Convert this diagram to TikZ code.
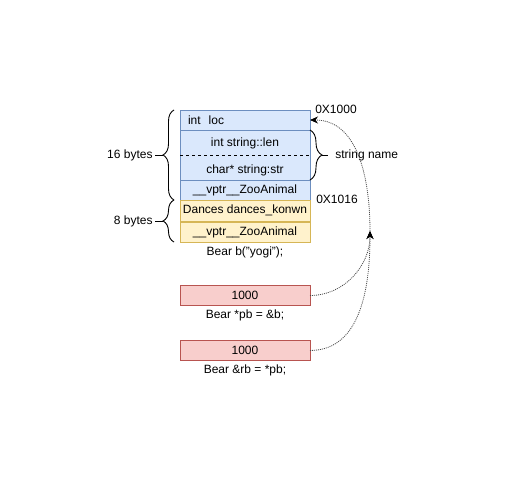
\documentclass[tikz,border=0pt]{standalone}
\usepackage{fontspec}
\setmainfont{Liberation Sans}
\usetikzlibrary{arrows.meta}
\usetikzlibrary{decorations.pathreplacing}
\definecolor{bluefill}{HTML}{DAE8FC}
\definecolor{blueline}{HTML}{6C8EBF}
\definecolor{yellowfill}{HTML}{FFF2CC}
\definecolor{yellowline}{HTML}{D6B656}
\definecolor{redfill}{HTML}{F8CECC}
\definecolor{redline}{HTML}{B85450}

\begin{document}
\begin{tikzpicture}[x=1pt, y=-1pt, font=\fontsize{12}{14}\selectfont, line width=0.8pt,
	cell/.style={draw, minimum width=130pt, inner sep=0pt, outer sep=0pt},
	bluecell/.style={cell, draw=blueline, fill=bluefill},
	yellowcell/.style={cell, draw=yellowline, fill=yellowfill},
	redcell/.style={cell, draw=redline, fill=redfill, minimum height=20pt},
	pointer/.style={draw=black!70, dash pattern=on 1pt off 1pt, -{Stealth[length=8pt, width=7pt, inset=2.5pt, black]}},
	curly/.style={decorate, decoration={brace, amplitude=#1}}
	]
				\useasboundingbox (0,0) rectangle (506,481);
				\node[bluecell, minimum height=20pt, text width=114pt, inner xsep=8pt, align=left] (loc) at (245,120) {int\ \ loc};
				\node[bluecell, minimum height=50pt] (str) at (245,155) {};
				\node[bluecell, minimum height=20pt] (vptra) at (245,190) {\_\_vptr\_\_ZooAnimal};
				\node[yellowcell, minimum height=21pt] (dance) at (245,210.5) {Dances dances\_konwn};
				\node[yellowcell, minimum height=20pt] (vptrb) at (245,232) {\_\_vptr\_\_ZooAnimal};
				\node (len) at (245,143) {int string::len};
				\node (chr) at (245,170) {char* string:str};
				\node (bear) at (245,252) {Bear b("yogi");};
				\node[redcell] (pb) at (245,295.5) {1000};
				\node (pbtxt) at (245,315) {Bear *pb = \&b;};
				\node[redcell] (rb) at (245,350.5) {1000};
				\node (rbtxt) at (245,370) {Bear \&rb = *pb;};
				\node[inner sep=0pt] (top) at (336,109) {0X1000};
				\node[inner sep=0pt] (mid) at (337,199) {0X1016};
				\node[inner sep=0pt, anchor=east] (sixteen) at (153,155) {16 bytes};
				\node[inner sep=0pt, anchor=east] (eight) at (153,221) {8 bytes};
				\node[inner sep=0pt, anchor=west] (name) at (335,155) {string name};
				\node[shape=coordinate] (join) at (370,231) {};
				\draw[dashed] (str.west) -- (str.east);
				\begin{scope}[line width=0.9pt]
					\draw[curly=11pt] (174,200) -- (174,110);
					\draw[curly=11pt] (174,242) -- (174,200);
					\draw[curly=12pt] (310,130) -- (310,180);
					\draw (sixteen.east) ++(2,0) -- (163,155);
					\draw (eight.east) ++(2,0) -- (163,221);
					\draw (322,155) -- (328,155);
				\end{scope}
				\draw[pointer] (pb.east) to[out=0, in=-90] (join);
				\draw[pointer] (rb.east) to[out=0, in=-90] (join);
				\draw[pointer] (join) to[out=90, in=0] (loc.east);
\end{tikzpicture}
\end{document}
